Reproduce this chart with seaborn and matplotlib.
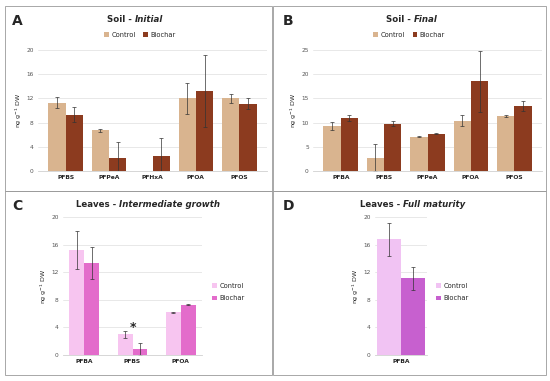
import numpy as np
import pandas as pd
import seaborn as sns
import matplotlib.pyplot as plt
from matplotlib.patches import Rectangle

# ---- data ----
a_cats = ['PFBS', 'PFPeA', 'PFHxA', 'PFOA', 'PFOS']
a_control = [11.3, 6.7, 0.0, 12.0, 12.0]
a_control_err = [0.9, 0.3, 0.0, 2.6, 0.8]
a_biochar = [9.3, 2.2, 2.5, 13.2, 11.1]
a_biochar_err = [1.2, 2.6, 3.0, 6.0, 0.9]

b_cats = ['PFBA', 'PFBS', 'PFPeA', 'PFOA', 'PFOS']
b_control = [9.3, 2.7, 7.1, 10.4, 11.4]
b_control_err = [0.9, 2.8, 0.15, 1.2, 0.15]
b_biochar = [11.0, 9.8, 7.7, 18.5, 13.4]
b_biochar_err = [0.6, 0.6, 0.05, 6.3, 1.1]

c_cats = ['PFBA', 'PFBS', 'PFOA']
c_control = [15.2, 3.0, 6.2]
c_control_err = [2.7, 0.5, 0.1]
c_biochar = [13.3, 0.9, 7.3]
c_biochar_err = [2.3, 0.9, 0.05]

d_cats = ['PFBA']
d_control = [16.8]
d_control_err = [2.4]
d_biochar = [11.1]
d_biochar_err = [1.7]

sns.set_theme(style='white')
plt.rcParams['font.family'] = ['DejaVu Sans']

fig = plt.figure(figsize=(5.5, 3.81), dpi=100)
W, H = 550, 381


def fbox(x0, y0, x1, y1):
    # pixel coords (top-left origin) -> figure fraction rect
    return [x0 / W, 1 - y1 / H, (x1 - x0) / W, (y1 - y0) / H]


def panel(rect, cats, ctl, ctl_err, bio, bio_err, colors, ymax, ystep,
          legend_at, legend_right=False, width=0.8):
    ax = fig.add_axes(fbox(*rect))
    df = pd.DataFrame({
        'cat': cats * 2,
        'val': ctl + bio,
        'grp': ['Control'] * len(cats) + ['Biochar'] * len(cats),
    })
    sns.barplot(data=df, x='cat', y='val', hue='grp', palette=colors,
                errorbar=None, width=width, ax=ax, saturation=1, linewidth=0)
    errs = [ctl_err, bio_err]
    for cont, err in zip(ax.containers, errs):
        for bar, e in zip(cont, err):
            if e > 0:
                ax.errorbar(bar.get_x() + bar.get_width() / 2, bar.get_height(),
                            yerr=e, fmt='none', ecolor='#333333',
                            elinewidth=0.5, capsize=1.2, capthick=0.5)
    ax.set_ylim(0, ymax)
    ax.set_yticks(np.arange(0, ymax + 0.1, ystep))
    ax.yaxis.grid(True, color='#e4e4e4', linewidth=0.6)
    ax.set_axisbelow(True)
    for s in ['top', 'right', 'left']:
        ax.spines[s].set_visible(False)
    ax.spines['bottom'].set_color('#d0d0d0')
    ax.spines['bottom'].set_linewidth(0.6)
    ax.tick_params(axis='both', length=0, pad=3)
    ax.tick_params(axis='y', labelsize=4.2, labelcolor='#555555')
    ax.tick_params(axis='x', labelsize=4.3)
    for t in ax.get_xticklabels():
        t.set_fontweight('bold')
    ax.set_xlabel('')
    ax.set_ylabel('ng g$^{-1}$ DW', fontsize=4.5, labelpad=2)
    lx, ly = legend_at
    if legend_right:
        ax.legend(loc='center left', bbox_to_anchor=(lx / W, 1 - ly / H),
                  bbox_transform=fig.transFigure, frameon=False,
                  fontsize=4.8, handlelength=0.7, handleheight=0.7,
                  handletextpad=0.4, labelspacing=1.0, borderaxespad=0,
                  borderpad=0)
    else:
        ax.legend(loc='center', bbox_to_anchor=(lx / W, 1 - ly / H),
                  bbox_transform=fig.transFigure, ncol=2,
                  frameon=False, fontsize=4.8, handlelength=0.7,
                  handleheight=0.7, handletextpad=0.4, columnspacing=1.2,
                  borderaxespad=0, borderpad=0)
    return ax


soil = ['#d9b48f', '#8c3b1f']
leaf_c = ['#f7c5f0', '#e36ccb']
leaf_d = ['#f1c3f3', '#c760cf']

axA = panel((38, 50, 267, 171), a_cats, a_control, a_control_err,
            a_biochar, a_biochar_err, soil, 20, 4, (140, 35))
axB = panel((313, 50, 542, 171), b_cats, b_control, b_control_err,
            b_biochar, b_biochar_err, soil, 25, 5, (409, 35))
axC = panel((63, 217, 202, 355), c_cats, c_control, c_control_err,
            c_biochar, c_biochar_err, leaf_c, 20, 4, (212, 292),
            legend_right=True, width=0.62)
axD = panel((375, 217, 427, 355), d_cats, d_control, d_control_err,
            d_biochar, d_biochar_err, leaf_d, 20, 4, (436, 292),
            legend_right=True, width=0.55)

# significance marker
axC.text(1, 4.0, '*', ha='center', va='center', fontsize=9, fontweight='bold')

# panel boxes
for x0, y0, x1, y1 in [(5, 6, 272, 191), (273, 6, 546, 191),
                       (5, 191, 272, 375), (273, 191, 546, 375)]:
    fig.add_artist(Rectangle((x0 / W, 1 - y1 / H), (x1 - x0) / W, (y1 - y0) / H,
                             transform=fig.transFigure, fill=False,
                             edgecolor='#9a9a9a', linewidth=0.6))

# panel letters and titles
for (lx, ly), letter in zip([(12, 21), (283, 21), (12, 206), (283, 206)], 'ABCD'):
    fig.text(lx / W, 1 - ly / H, letter, fontsize=10, fontweight='bold',
             ha='left', va='center')

titles = [((135, 19), 'Soil - ', 'Initial'),
          ((414, 19), 'Soil - ', 'Final'),
          ((119, 204), 'Leaves - ', 'Intermediate growth'),
          ((403, 204), 'Leaves - ', 'Full maturity')]
for (tx, ty), main, it in titles:
    fig.text(tx / W, 1 - ty / H, main, fontsize=6.2, fontweight='bold',
             ha='right', va='center')
    fig.text(tx / W, 1 - ty / H, it, fontsize=6.2, fontweight='bold',
             fontstyle='italic', ha='left', va='center')

fig.savefig('out.png', dpi=100)
